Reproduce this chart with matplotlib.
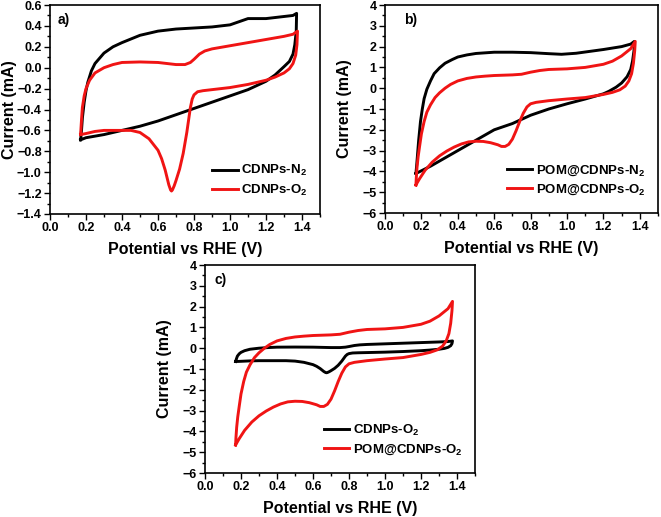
import matplotlib
matplotlib.use("Agg")
import matplotlib.pyplot as plt
import numpy as np
from matplotlib.ticker import MultipleLocator

plt.rcParams['font.family'] = ['Liberation Sans', 'DejaVu Sans']
plt.rcParams['font.weight'] = 'bold'
plt.rcParams['mathtext.fontset'] = 'custom'
plt.rcParams['mathtext.rm'] = 'Liberation Sans:bold'
plt.rcParams['mathtext.it'] = 'Liberation Sans:bold'
plt.rcParams['mathtext.bf'] = 'Liberation Sans:bold'
plt.rcParams['mathtext.default'] = 'rm'

# ---- CDNPs-N2 (panel a, black) ----
cd_n2_fwd_x = [0.17, 0.175, 0.18, 0.19, 0.2, 0.21, 0.23, 0.25, 0.3, 0.35, 0.4, 0.5, 0.6, 0.7,
               0.8, 0.9, 1.0, 1.05, 1.1, 1.15, 1.2, 1.25, 1.3, 1.35, 1.37]
cd_n2_fwd_y = [-0.69, -0.6, -0.48, -0.33, -0.22, -0.14, -0.03, 0.04, 0.14, 0.2, 0.24, 0.31, 0.35, 0.37,
               0.38, 0.39, 0.41, 0.44, 0.47, 0.47, 0.47, 0.48, 0.49, 0.5, 0.52]
cd_n2_rev_x = [1.37, 1.368, 1.36, 1.35, 1.33, 1.3, 1.25, 1.2, 1.1, 1.0, 0.9, 0.8, 0.7, 0.6, 0.5,
               0.4, 0.3, 0.2, 0.17]
cd_n2_rev_y = [0.52, 0.35, 0.22, 0.13, 0.06, 0.01, -0.07, -0.13, -0.21, -0.27, -0.33, -0.39, -0.45,
               -0.51, -0.56, -0.6, -0.64, -0.67, -0.69]

# ---- CDNPs-O2 (panel a red, panel c black) ----
cd_o2_fwd_x = [0.17, 0.175, 0.18, 0.19, 0.2, 0.22, 0.25, 0.3, 0.35, 0.4, 0.5, 0.6, 0.7, 0.75, 0.78,
               0.8, 0.83, 0.86, 0.9, 1.0, 1.1, 1.2, 1.3, 1.35, 1.375]
cd_o2_fwd_y = [-0.64, -0.5, -0.38, -0.27, -0.2, -0.12, -0.05, 0.0, 0.03, 0.05, 0.055, 0.05, 0.03,
               0.03, 0.05, 0.08, 0.13, 0.16, 0.18, 0.21, 0.24, 0.27, 0.30, 0.32, 0.35]
cd_o2_rev_x = [1.375, 1.372, 1.365, 1.35, 1.33, 1.3, 1.25, 1.2, 1.1, 1.0, 0.9, 0.85, 0.82, 0.8, 0.79,
               0.78, 0.77, 0.76, 0.74, 0.72, 0.70, 0.69, 0.68, 0.675, 0.67, 0.66, 0.65, 0.64, 0.62,
               0.6, 0.55, 0.5, 0.45, 0.4, 0.3, 0.25, 0.2, 0.17]
cd_o2_rev_y = [0.35, 0.22, 0.12, 0.04, -0.01, -0.05, -0.09, -0.12, -0.16, -0.19, -0.21, -0.22, -0.23,
               -0.26, -0.3, -0.38, -0.5, -0.62, -0.82, -0.97, -1.08, -1.13, -1.17, -1.18, -1.17,
               -1.12, -1.05, -0.98, -0.87, -0.79, -0.68, -0.62, -0.6, -0.6, -0.6, -0.61, -0.63, -0.64]

# ---- POM@CDNPs-N2 (panel b, black) ----
pom_n2_fwd_x = [0.17, 0.175, 0.185, 0.195, 0.205, 0.215, 0.23, 0.25, 0.27, 0.3, 0.33, 0.37, 0.4,
                0.45, 0.5, 0.6, 0.7, 0.8, 0.9, 0.97, 1.05, 1.1, 1.2, 1.3, 1.35, 1.37]
pom_n2_fwd_y = [-4.1, -3.6, -2.5, -1.6, -1.0, -0.5, -0.05, 0.35, 0.7, 0.98, 1.2, 1.38, 1.5,
                1.6, 1.67, 1.73, 1.73, 1.71, 1.66, 1.63, 1.68, 1.74, 1.86, 2.0, 2.12, 2.25]
pom_n2_rev_x = [1.37, 1.368, 1.36, 1.35, 1.33, 1.3, 1.27, 1.23, 1.2, 1.1, 1.0, 0.9, 0.8, 0.75,
                0.7, 0.65, 0.6, 0.55, 0.5, 0.45, 0.4, 0.35, 0.3, 0.25, 0.2, 0.17]
pom_n2_rev_y = [2.25, 1.8, 1.3, 0.9, 0.55, 0.25, 0.05, -0.15, -0.27, -0.52, -0.75, -1.0, -1.3, -1.5,
                -1.7, -1.85, -2.0, -2.25, -2.5, -2.75, -3.0, -3.25, -3.5, -3.75, -3.97, -4.1]

# ---- POM@CDNPs-O2 (panel b and c, red) ----
pom_o2_fwd_x = [0.17, 0.172, 0.176, 0.182, 0.19, 0.2, 0.215, 0.23, 0.25, 0.275, 0.3, 0.33, 0.36,
                0.4, 0.45, 0.5, 0.55, 0.6, 0.7, 0.75, 0.8, 0.85, 0.9, 1.0, 1.1, 1.2, 1.25, 1.3,
                1.35, 1.375]
pom_o2_fwd_y = [-4.65, -4.3, -3.8, -3.3, -2.8, -2.2, -1.6, -1.15, -0.8, -0.45, -0.22, 0.0, 0.18,
                0.35, 0.47, 0.54, 0.58, 0.61, 0.64, 0.67, 0.77, 0.85, 0.9, 0.93, 1.0, 1.15, 1.3,
                1.55, 1.9, 2.25]
pom_o2_rev_x = [1.375, 1.372, 1.365, 1.355, 1.34, 1.32, 1.29, 1.25, 1.2, 1.1, 1.0, 0.9, 0.83, 0.8,
                0.78, 0.76, 0.74, 0.72, 0.7, 0.68, 0.66, 0.64, 0.62, 0.58, 0.54, 0.5, 0.46, 0.42,
                0.38, 0.34, 0.3, 0.26, 0.22, 0.19, 0.17]
pom_o2_rev_y = [2.25, 1.8, 1.2, 0.7, 0.35, 0.1, -0.08, -0.2, -0.3, -0.45, -0.52, -0.6, -0.68, -0.75,
                -0.9, -1.2, -1.6, -2.05, -2.45, -2.7, -2.8, -2.8, -2.72, -2.62, -2.56, -2.55, -2.58,
                -2.68, -2.83, -3.02, -3.25, -3.55, -3.95, -4.35, -4.65]

x_ticks = [0.0, 0.2, 0.4, 0.6, 0.8, 1.0, 1.2, 1.4]


def loop(fx, fy, rx, ry):
    return np.concatenate([fx, rx]), np.concatenate([fy, ry])


RED = '#f01414'
fig = plt.figure(figsize=(6.61, 5.17), dpi=100)
axA = fig.add_axes([50 / 661, 1 - 214 / 517, 270 / 661, 209 / 517])
axB = fig.add_axes([385 / 661, 1 - 213 / 517, 273 / 661, 208 / 517])
axC = fig.add_axes([205 / 661, 1 - 473 / 517, 270 / 661, 208 / 517])

lw = 2.1
# Panel a
x, y = loop(cd_n2_fwd_x, cd_n2_fwd_y, cd_n2_rev_x, cd_n2_rev_y)
axA.plot(x, y, color='black', lw=lw, label='CDNPs-N$_2$')
x, y = loop(cd_o2_fwd_x, cd_o2_fwd_y, cd_o2_rev_x, cd_o2_rev_y)
axA.plot(x, y, color=RED, lw=lw, label='CDNPs-O$_2$')
axA.set_ylim(-1.4, 0.6)
axA.yaxis.set_major_locator(MultipleLocator(0.2))
axA.yaxis.set_minor_locator(MultipleLocator(0.1))

# Panel b
x, y = loop(pom_n2_fwd_x, pom_n2_fwd_y, pom_n2_rev_x, pom_n2_rev_y)
axB.plot(x, y, color='black', lw=lw, label='POM@CDNPs-N$_2$')
x, y = loop(pom_o2_fwd_x, pom_o2_fwd_y, pom_o2_rev_x, pom_o2_rev_y)
axB.plot(x, y, color=RED, lw=lw, label='POM@CDNPs-O$_2$')

# Panel c
x, y = loop(cd_o2_fwd_x, cd_o2_fwd_y, cd_o2_rev_x, cd_o2_rev_y)
axC.plot(x, y, color='black', lw=lw, label='CDNPs-O$_2$')
x, y = loop(pom_o2_fwd_x, pom_o2_fwd_y, pom_o2_rev_x, pom_o2_rev_y)
axC.plot(x, y, color=RED, lw=lw, label='POM@CDNPs-O$_2$')

for ax in (axB, axC):
    ax.set_ylim(-6, 4)
    ax.yaxis.set_major_locator(MultipleLocator(1))
    ax.yaxis.set_minor_locator(MultipleLocator(0.5))

for ax, lab, lx in ((axA, 'a)', 0.03), (axB, 'b)', 0.07), (axC, 'c)', 0.035)):
    ax.set_xlim(0, 1.5)
    ax.set_xticks(x_ticks)
    ax.set_xticklabels([f'{v:.1f}' for v in x_ticks])
    ax.xaxis.set_minor_locator(MultipleLocator(0.1))
    ax.tick_params(which='both', direction='out', top=False, right=False, labelsize=9, width=1.0)
    ax.tick_params(which='major', length=4, pad=2)
    ax.tick_params(which='minor', length=2)
    for s in ax.spines.values():
        s.set_linewidth(1.2)
    for t in ax.get_xticklabels() + ax.get_yticklabels():
        t.set_fontweight('bold')
    w_px = ax.get_position().width * 661
    h_px = ax.get_position().height * 517
    ax.set_xlabel('Potential vs RHE (V)', fontsize=11.5, fontweight='bold')
    ax.xaxis.set_label_coords(0.5, -28 / h_px)
    ax.set_ylabel('Current (mA)', fontsize=11.5, fontweight='bold')
    ax.yaxis.set_label_coords(-33 / w_px, 0.5)
    ax.text(lx, 0.93, lab, transform=ax.transAxes, fontsize=10, fontweight='bold', va='center', ha='left')
    ax.legend(loc='lower right', frameon=False, handlelength=1.9, handletextpad=0.3,
              labelspacing=0.35, bbox_to_anchor=(1.0, 0.02), prop={'weight': 'bold', 'size': 9.5})

fig.savefig('out.png', dpi=100)
